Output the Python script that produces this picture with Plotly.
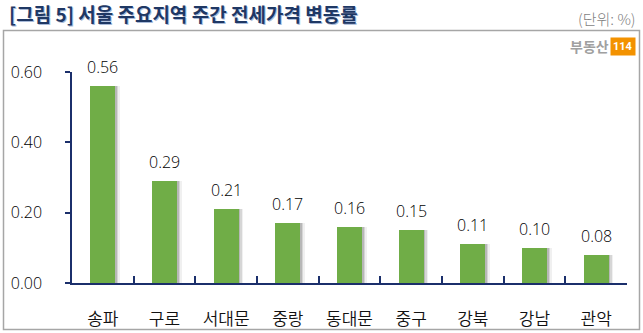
import plotly.graph_objects as go

# Weekly jeonse price change by district (%)
districts = ["송파", "구로", "서대문", "중랑", "동대문", "중구", "강북", "강남", "관악"]
changes = [0.56, 0.29, 0.21, 0.17, 0.16, 0.15, 0.11, 0.10, 0.08]
y_ticks = [0.0, 0.2, 0.4, 0.6]
y_tick_labels = ["0.00", "0.20", "0.40", "0.60"]

W, H = 643, 333
L, R, T, B = 72, 16, 72, 50
PW, PH = W - L - R, H - T - B

def px_x(px):
    return (px - L) / PW

def px_y(py):
    return (H - B - py) / PH

NAVY = "#1B2F6B"
GREEN = "#70AD47"
KR = "Noto Sans CJK KR"
NUM = "Open Sans"

fig = go.Figure()

# soft drop shadow behind each bar
for dx, a in [(0.075, 0.08), (0.05, 0.14), (0.025, 0.2)]:
    fig.add_trace(go.Bar(
        x=districts, y=changes, width=0.405, offset=-0.2025 + dx,
        marker=dict(color=f"rgba(60,60,60,{a})", line=dict(width=0)),
        hoverinfo="skip", showlegend=False,
    ))

fig.add_trace(go.Bar(
    x=districts, y=changes, width=0.405, offset=-0.2025,
    marker=dict(color=GREEN, line=dict(width=0)),
    showlegend=False,
))

annotations = []
for d, v in zip(districts, changes):
    annotations.append(dict(
        x=d, y=v, xref="x", yref="y", text=f"{v:.2f}", showarrow=False,
        yanchor="bottom", yshift=6,
        font=dict(family=NUM, size=16, color="#000000", weight=350),
    ))

# title with a faint shadow
title = "[그림 5] 서울 주요지역 주간 전세가격 변동률"
annotations.append(dict(
    x=px_x(8), y=px_y(14), xref="paper", yref="paper", text=f"<b>{title}</b>",
    showarrow=False, xanchor="left", yanchor="middle",
    font=dict(family=KR, size=19, color="#A9BBD9"),
))
annotations.append(dict(
    x=px_x(7), y=px_y(13), xref="paper", yref="paper", text=f"<b>{title}</b>",
    showarrow=False, xanchor="left", yanchor="middle",
    font=dict(family=KR, size=19, color="#1F3864"),
))
annotations.append(dict(
    x=px_x(638), y=px_y(19), xref="paper", yref="paper", text="(단위: %)",
    showarrow=False, xanchor="right", yanchor="middle",
    font=dict(family=KR, size=15, color="#7F7F7F", weight=300),
))
# brand mark
annotations.append(dict(
    x=px_x(611), y=px_y(46), xref="paper", yref="paper", text="<b>부동산</b>",
    showarrow=False, xanchor="right", yanchor="middle",
    font=dict(family=KR, size=14, color="#A0A0A0"),
))
annotations.append(dict(
    x=px_x(623), y=px_y(46), xref="paper", yref="paper", text="<b>114</b>",
    showarrow=False, xanchor="center", yanchor="middle", bgcolor="#F39200",
    borderpad=2, font=dict(family="Roboto", size=11, color="#FFFFFF"),
))

shapes = [dict(
    type="rect", xref="paper", yref="paper",
    x0=px_x(3.5), x1=px_x(639.5), y0=px_y(329.5), y1=px_y(30.5),
    line=dict(color="#A6A6A6", width=1.5), layer="below",
)]

fig.update_layout(
    width=W, height=H, margin=dict(l=L, r=R, t=T, b=B, autoexpand=False),
    paper_bgcolor="white", plot_bgcolor="white",
    barmode="overlay", bargap=0,
    annotations=annotations, shapes=shapes,
    font=dict(family=KR),
)
fig.update_xaxes(
    showline=True, linecolor=NAVY, linewidth=1.5,
    ticks="inside", tickson="boundaries", ticklen=7, tickcolor=NAVY, tickwidth=1.5,
    tickfont=dict(family=KR, size=17, color="#111111", weight=350),
    ticklabelstandoff=20, showgrid=False, zeroline=False, automargin=False,
)
fig.update_yaxes(
    range=[0, 0.6], tickvals=y_ticks, ticktext=y_tick_labels,
    showline=True, linecolor=NAVY, linewidth=1.5,
    ticks="outside", ticklen=5, tickcolor=NAVY, tickwidth=1.5,
    tickfont=dict(family=NUM, size=16, color="#000000", weight=350),
    ticklabelstandoff=20, showgrid=False, zeroline=False, automargin=False,
)

fig.write_html("out.html")
